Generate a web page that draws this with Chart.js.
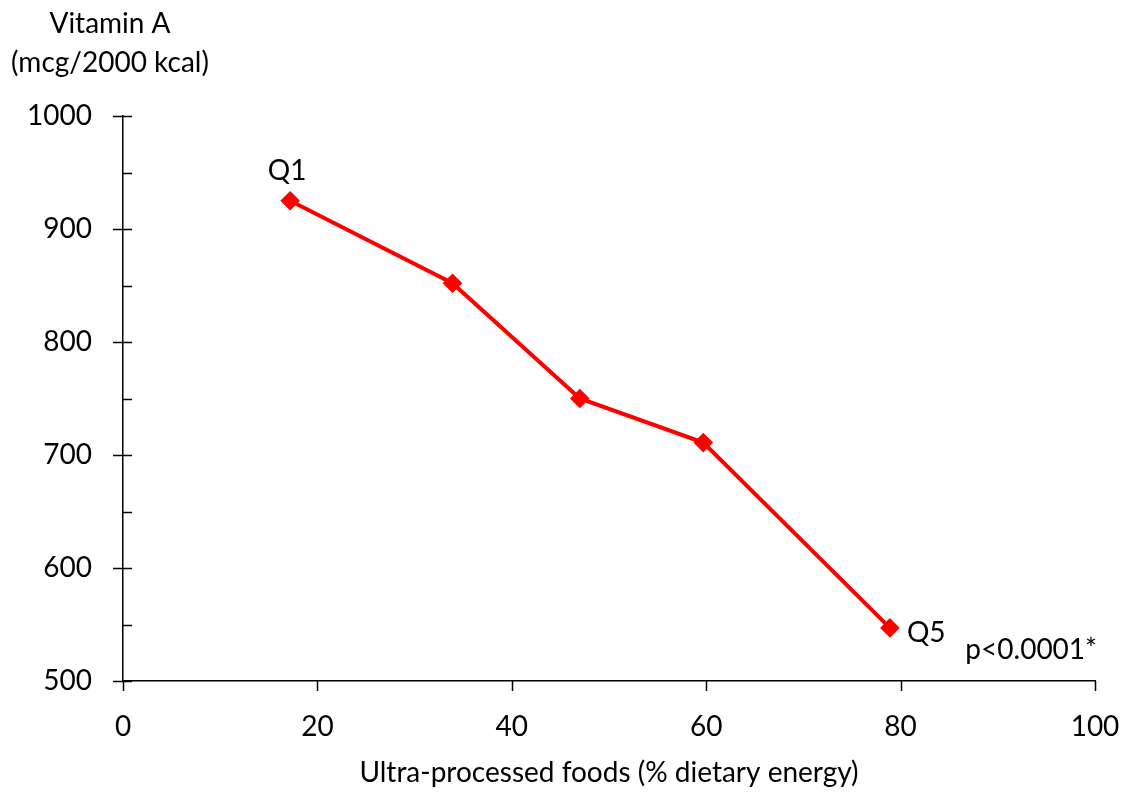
<!DOCTYPE html>
<html>
<head>
<meta charset="utf-8">
<script src="https://cdn.jsdelivr.net/npm/chart.js@4"></script>
<style>
  html, body { margin: 0; padding: 0; background: #fff; }
  #wrap { width: 1131px; height: 796px; position: relative; }
</style>
</head>
<body>
<div id="wrap"><canvas id="chart"></canvas></div>
<script>
// data (quintiles Q1..Q5)
const upfShare = [17.2, 33.9, 47.0, 59.7, 78.9];
const vitaminA = [925, 852, 750, 711, 547];
const pointLabels = ['Q1', '', '', '', 'Q5'];
const yTitleLines = ['Vitamin A', '(mcg/2000 kcal)'];
const xTitle = 'Ultra-processed foods (% dietary energy)';
const pValueText = 'p<0.0001*';

const FONT = 'Lato, "Noto Sans", sans-serif';

// axis ticks drawn by hand so they look like the Excel original
const axisTicks = {
  id: 'axisTicks',
  afterDraw(chart) {
    const ctx = chart.ctx;
    const x = chart.scales.x, y = chart.scales.y;
    const area = chart.chartArea;
    ctx.save();
    ctx.strokeStyle = '#000';
    ctx.lineWidth = 1.5;
    ctx.beginPath();
    // y major ticks cross the axis, minor ticks inside only
    for (let v = 500; v <= 1000; v += 50) {
      const py = Math.round(y.getPixelForValue(v)) + 0.5;
      const major = v % 100 === 0;
      ctx.moveTo(area.left - (major ? 10 : 0), py);
      ctx.lineTo(area.left + 9, py);
    }
    // x major ticks outside
    for (let v = 0; v <= 100; v += 20) {
      const px = Math.round(x.getPixelForValue(v)) + 0.5;
      ctx.moveTo(px, area.bottom);
      ctx.lineTo(px, area.bottom + 10);
    }
    ctx.stroke();

    // titles and annotations
    ctx.fillStyle = '#000';
    ctx.textAlign = 'center';
    ctx.textBaseline = 'middle';
    ctx.font = '28px ' + FONT;
    ctx.fillText(yTitleLines[0], 110, 24);
    ctx.fillText(yTitleLines[1], 110, 63);
    ctx.fillText(xTitle, (area.left + area.right) / 2, 773);

    const meta = chart.getDatasetMeta(0);
    pointLabels.forEach((lab, i) => {
      if (!lab) return;
      const pt = meta.data[i];
      if (i === 0) {
        ctx.textAlign = 'center';
        ctx.fillText(lab, pt.x - 3, pt.y - 30);
      } else {
        ctx.textAlign = 'left';
        ctx.fillText(lab, pt.x + 17, pt.y + 5);
      }
    });
    ctx.textAlign = 'right';
    ctx.fillText(pValueText, area.right + 2, 650);
    ctx.restore();
  }
};

new Chart(document.getElementById('chart'), {
  type: 'scatter',
  data: {
    datasets: [{
      data: upfShare.map((v, i) => ({ x: v, y: vitaminA[i] })),
      showLine: true,
      borderColor: '#ff0000',
      backgroundColor: '#ff0000',
      borderWidth: 4,
      pointStyle: 'rectRot',
      pointRadius: 7,
      pointHoverRadius: 7,
      tension: 0
    }]
  },
  options: {
    responsive: true,
    maintainAspectRatio: false,
    animation: false,
    layout: { padding: { top: 116, right: 36, left: 0, bottom: 0 } },
    plugins: { legend: { display: false }, tooltip: { enabled: false } },
    scales: {
      x: {
        type: 'linear',
        min: 0, max: 100,
        ticks: { stepSize: 20, color: '#000', font: { size: 28, family: FONT }, padding: 21,
                 callback: v => String(v) },
        grid: { display: false },
        border: { display: true, color: '#000', width: 1.5 },
        afterFit(scale) {
          scale.height = 796 - 681;
          scale.paddingLeft = 0;
          scale.paddingRight = 0;
        }
      },
      y: {
        min: 500, max: 1000,
        ticks: { stepSize: 100, color: '#000', font: { size: 28, family: FONT }, padding: 23,
                 callback: v => String(v) },
        grid: { display: false },
        border: { display: true, color: '#000', width: 1.5 },
        afterFit(scale) {
          scale.width = 123;
          scale.paddingTop = 0;
          scale.paddingBottom = 0;
        }
      }
    }
  },
  plugins: [axisTicks]
});
</script>
</body>
</html>
